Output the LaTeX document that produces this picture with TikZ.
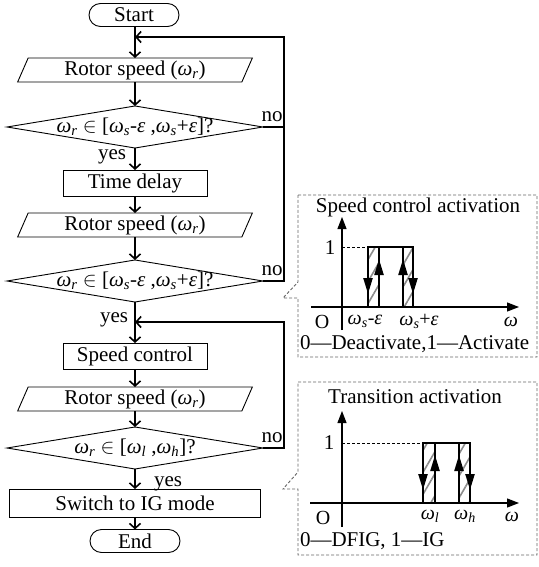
\documentclass[tikz,border=0pt]{standalone}
\usepackage{fontspec}
\setmainfont{Liberation Serif}
\usetikzlibrary{shapes.geometric,arrows.meta,patterns.meta}
\newcommand{\wsub}[1]{\textit{ω}\textsubscript{\textit{#1}}}
\begin{document}
\begin{tikzpicture}[x=1pt,y=-1pt,
  font=\fontsize{21}{24}\selectfont,
  every node/.style={inner sep=0pt, outer sep=0pt},
  shapeline/.style={draw, line width=0.9pt},
  terminal/.style={shapeline, rounded corners=11.5pt, minimum width=90pt, minimum height=23pt},
  process/.style={shapeline, minimum height=26pt},
  io/.style={shapeline, trapezium, trapezium left angle=70, trapezium right angle=110,
    trapezium stretches=true, minimum width=235pt, minimum height=24pt},
  decision/.style={shapeline, diamond, minimum width=256pt, minimum height=42pt},
  flow/.style={line width=1.6pt, -{Straight Barb[length=5pt,width=11pt,line width=1.6pt]}},
  loopline/.style={line width=1.6pt},
  callout/.style={draw=black!60, dash pattern=on 3pt off 2pt, line width=0.9pt},
  axis/.style={line width=1.2pt, -{Triangle[length=12pt,width=9pt]}},
  level/.style={line width=2.4pt},
  guide/.style={dash pattern=on 3pt off 2pt, line width=0.8pt},
  hatch/.style={pattern={Lines[angle=60,distance=11pt,line width=1.6pt]}, pattern color=black!45},
  edgearrow/.style={line width=2.2pt, -{Triangle[length=16pt,width=9pt]}},
  ticklabel/.style={font=\fontsize{20}{22}\selectfont},
]
\useasboundingbox (0,0) rectangle (538,567);

% ---------------- flowchart ----------------
\node[terminal] (start) at (134,15) {Start};
\node[io] (r1) at (135,70) {Rotor speed (\wsub{r})};
\node[decision] (d1) at (135,127) {};
\node (d1t) at (d1) {\wsub{r} $\in$ [\wsub{s}-\textit{ε} ,\wsub{s}+\textit{ε}]?};
\node[process, minimum width=144pt] (td) at (135,183) {Time delay};
\node[io] (r2) at (135,225) {Rotor speed (\wsub{r})};
\node[decision] (d2) at (135,281) {};
\node (d2t) at (d2) {\wsub{r} $\in$ [\wsub{s}-\textit{ε} ,\wsub{s}+\textit{ε}]?};
\node[process, minimum width=144pt] (sc) at (135,356) {Speed control};
\node[io] (r3) at (135,399) {Rotor speed (\wsub{r})};
\node[decision] (d3) at (135,448) {};
\node (d3t) at (d3) {\wsub{r} $\in$ [\wsub{l} ,\wsub{h}]?};
\node[process, minimum width=251pt, minimum height=28pt] (sw) at (135,503) {Switch to IG mode};
\node[terminal] (en) at (135,541) {End};

\coordinate (j1) at (135,37);
\coordinate (c1) at (284,37);
\coordinate (j2) at (135,322);
\coordinate (c2) at (284,322);

% main path
\draw[flow] (start.south -| j1) -- (r1.north -| j1);
\draw[flow] (r1) -- (d1.north);
\draw[flow] (d1) -- (td.north);
\draw[flow] (td) -- (r2.north);
\draw[flow] (r2) -- (d2.north);
\draw[flow] (d2) -- (sc.north);
\draw[flow] (sc) -- (r3.north);
\draw[flow] (r3) -- (d3.north);
\draw[flow] (d3) -- (sw.north);
\draw[flow] (sw) -- (en.north);

% feedback loops
\draw[loopline] (d1.east) -- (d1.east -| c1);
\draw[flow] (d2.east) -| (c1) -- (j1);
\draw[flow] (d3.east) -| (c2) -- (j2);

\node (y1) at (112,157) {yes};
\node (y2) at (114,320) {yes};
\node (y3) at (168,484) {yes};
\node (n1) at (272,117) {no};
\node (n2) at (272,271) {no};
\node (n3) at (272,438) {no};

% ---------------- callout panels ----------------
\draw[callout] (298,195) -- (537,195) -- (537,357) -- (298,357) -- (298,298)
  -- (283,298) -- (298,282) -- cycle;
\draw[callout] (298,382) -- (537,382) -- (537,555) -- (298,555) -- (298,489)
  -- (283,489) -- (298,472) -- cycle;

% speed control activation characteristic
\node (p1t) at (418,207) {Speed control activation};
\fill[hatch] (368,247) rectangle (379,307);
\fill[hatch] (403,247) rectangle (413,307);
\draw[axis] (342,330) -- (342,217);
\draw[axis] (311,307) -- (519,307);
\draw[guide] (342,247) -- (368,247);
\node (p1one) at (330,248) {1};
\draw[level] (342,307) -- (368,307) -- (368,247) -- (413,247) -- (413,307) -- (435,307);
\draw[level] (379,247) -- (379,307);
\draw[level] (403,247) -- (403,307);
\draw[edgearrow] (368,255) -- (368,294);
\draw[edgearrow] (379,300) -- (379,259);
\draw[edgearrow] (403,300) -- (403,259);
\draw[edgearrow] (413,255) -- (413,294);
\node[ticklabel] (p1o) at (322,322) {O};
\node[ticklabel] (p1a) at (365,321) {\wsub{s}-\textit{ε}};
\node[ticklabel] (p1b) at (419,321) {\wsub{s}+\textit{ε}};
\node[ticklabel] (p1w) at (511,322) {\textit{ω}};
\node[anchor=west] (p1n) at (300,344.5) {0—Deactivate,1—Activate};

% transition activation characteristic
\node (p2t) at (415,397) {Transition activation};
\fill[hatch] (423,443) rectangle (435,503);
\fill[hatch] (459,443) rectangle (470,503);
\draw[axis] (342,527) -- (342,411);
\draw[axis] (310,503) -- (519,503);
\draw[guide] (342,443) -- (423,443);
\node (p2one) at (329,443) {1};
\draw[level] (398,503) -- (423,503) -- (423,443) -- (470,443) -- (470,503) -- (490,503);
\draw[level] (435,443) -- (435,503);
\draw[level] (459,443) -- (459,503);
\draw[edgearrow] (423,451) -- (423,490);
\draw[edgearrow] (435,496) -- (435,455);
\draw[edgearrow] (459,496) -- (459,455);
\draw[edgearrow] (470,451) -- (470,490);
\node[ticklabel] (p2o) at (323,518) {O};
\node[ticklabel] (p2a) at (430,516) {\wsub{l}};
\node[ticklabel] (p2b) at (465,516) {\wsub{h}};
\node[ticklabel] (p2w) at (512,517) {\textit{ω}};
\node[anchor=west] (p2n) at (300,541) {0—DFIG, 1—IG};
\end{tikzpicture}
\end{document}
